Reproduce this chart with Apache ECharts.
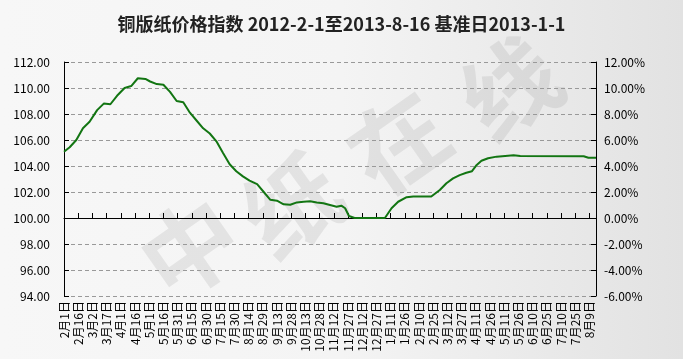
<!DOCTYPE html>
<html>
<head>
<meta charset="utf-8">
<script src="https://cdn.jsdelivr.net/npm/echarts@6/dist/echarts.min.js"></script>
<style>html,body{margin:0;padding:0;}#c{width:683px;height:359px;}</style>
</head>
<body>
<div id="c"></div>
<script>
// Days since 2012-02-01 for each reading
const dayOffsets = [0,6,13,20,27,35,42,49,56,64,71,78,86,91,98,105,112,119,126,133,140,147,154,161,168,175,182,189,196,204,211,218,225,232,239,246,253,260,267,274,281,288,293,297,301,307,339,346,353,362,369,380,388,397,404,411,418,425,431,436,441,448,457,466,475,482,549,554,562];
// Index values
const indexValues = [105.1,105.44,106.0,106.9,107.4,108.3,108.8,108.75,109.4,110.0,110.15,110.75,110.7,110.5,110.3,110.25,109.7,109.0,108.9,108.1,107.5,106.9,106.5,105.9,105.0,104.13,103.6,103.2,102.87,102.6,102.0,101.4,101.33,101.05,101.02,101.2,101.25,101.28,101.2,101.13,101.0,100.87,100.95,100.75,100.15,100.0,100.0,100.75,101.25,101.6,101.65,101.65,101.65,102.15,102.67,103.05,103.3,103.48,103.6,104.08,104.4,104.6,104.72,104.77,104.82,104.77,104.75,104.63,104.63];
const startDate = [2012, 1, 1];
const lastDay = 562;
const titleText = '铜版纸价格指数 2012-2-1至2013-8-16 基准日2013-1-1';
const watermarkChars = ['中','纸','在','线'];

const chart = echarts.init(document.getElementById('c'));
const font = '"Noto Sans CJK SC", "DejaVu Sans", sans-serif';
const wmPos = [[190,248],[292,205],[398,142],[510,88]];
chart.setOption({
  animation: false,
  backgroundColor: {
    type: 'linear', x: 0, y: 0, x2: 1, y2: 0,
    colorStops: [{offset: 0, color: '#f7f7f7'}, {offset: 0.5, color: '#f4f4f4'}, {offset: 1, color: '#e2e2e2'}]
  },
  title: {
    text: titleText, left: 'center', top: 10,
    textStyle: {fontFamily: font, fontSize: 18, fontWeight: 'bold', color: '#222'}
  },
  graphic: watermarkChars.map((ch, i) => ({
    type: 'text', x: wmPos[i][0], y: wmPos[i][1], rotation: 35 * Math.PI / 180, z: -10,
    style: {text: ch, fontSize: 96, fontFamily: font, fontWeight: 'bold', fill: 'rgba(0,0,0,0.07)', align: 'center', verticalAlign: 'middle'}
  })),
  grid: {left: 64, right: 87, top: 62, bottom: 63},
  xAxis: {
    type: 'value', min: 0, max: lastDay, interval: 15,
    axisLine: {lineStyle: {color: '#000', width: 1}},
    axisTick: {inside: true, length: 5, lineStyle: {color: '#000'}},
    splitLine: {show: false},
    axisLabel: {
      rotate: 90, fontSize: 12, fontFamily: font, color: '#000', margin: 5,
      showMaxLabel: false,
      formatter: v => {
        if (v % 15 !== 0) return '';
        const d = new Date(startDate[0], startDate[1], startDate[2] + v);
        return (d.getMonth() + 1) + '月' + d.getDate() + '日';
      }
    }
  },
  yAxis: [{
    type: 'value', min: 94, max: 112, interval: 2, position: 'left',
    axisLine: {show: true, lineStyle: {color: '#000'}},
    axisTick: {show: true, inside: true, length: 5, lineStyle: {color: '#000'}},
    splitLine: {show: true, lineStyle: {color: '#999', type: [4, 3], width: 1}},
    axisLabel: {fontSize: 12, fontFamily: font, color: '#000', margin: 14, formatter: v => v.toFixed(2)}
  }, {
    type: 'value', min: -6, max: 12, interval: 2, position: 'right',
    axisLine: {show: true, lineStyle: {color: '#000'}},
    axisTick: {show: true, inside: true, length: 5, lineStyle: {color: '#000'}},
    splitLine: {show: false},
    axisLabel: {fontSize: 12, fontFamily: font, color: '#000', margin: 8, formatter: v => v.toFixed(2) + '%'}
  }],
  series: [{
    type: 'line', yAxisIndex: 0, symbol: 'none', smooth: false,
    lineStyle: {color: '#127512', width: 2},
    data: dayOffsets.map((d, i) => [d, indexValues[i]])
  }]
});
</script>
</body>
</html>
